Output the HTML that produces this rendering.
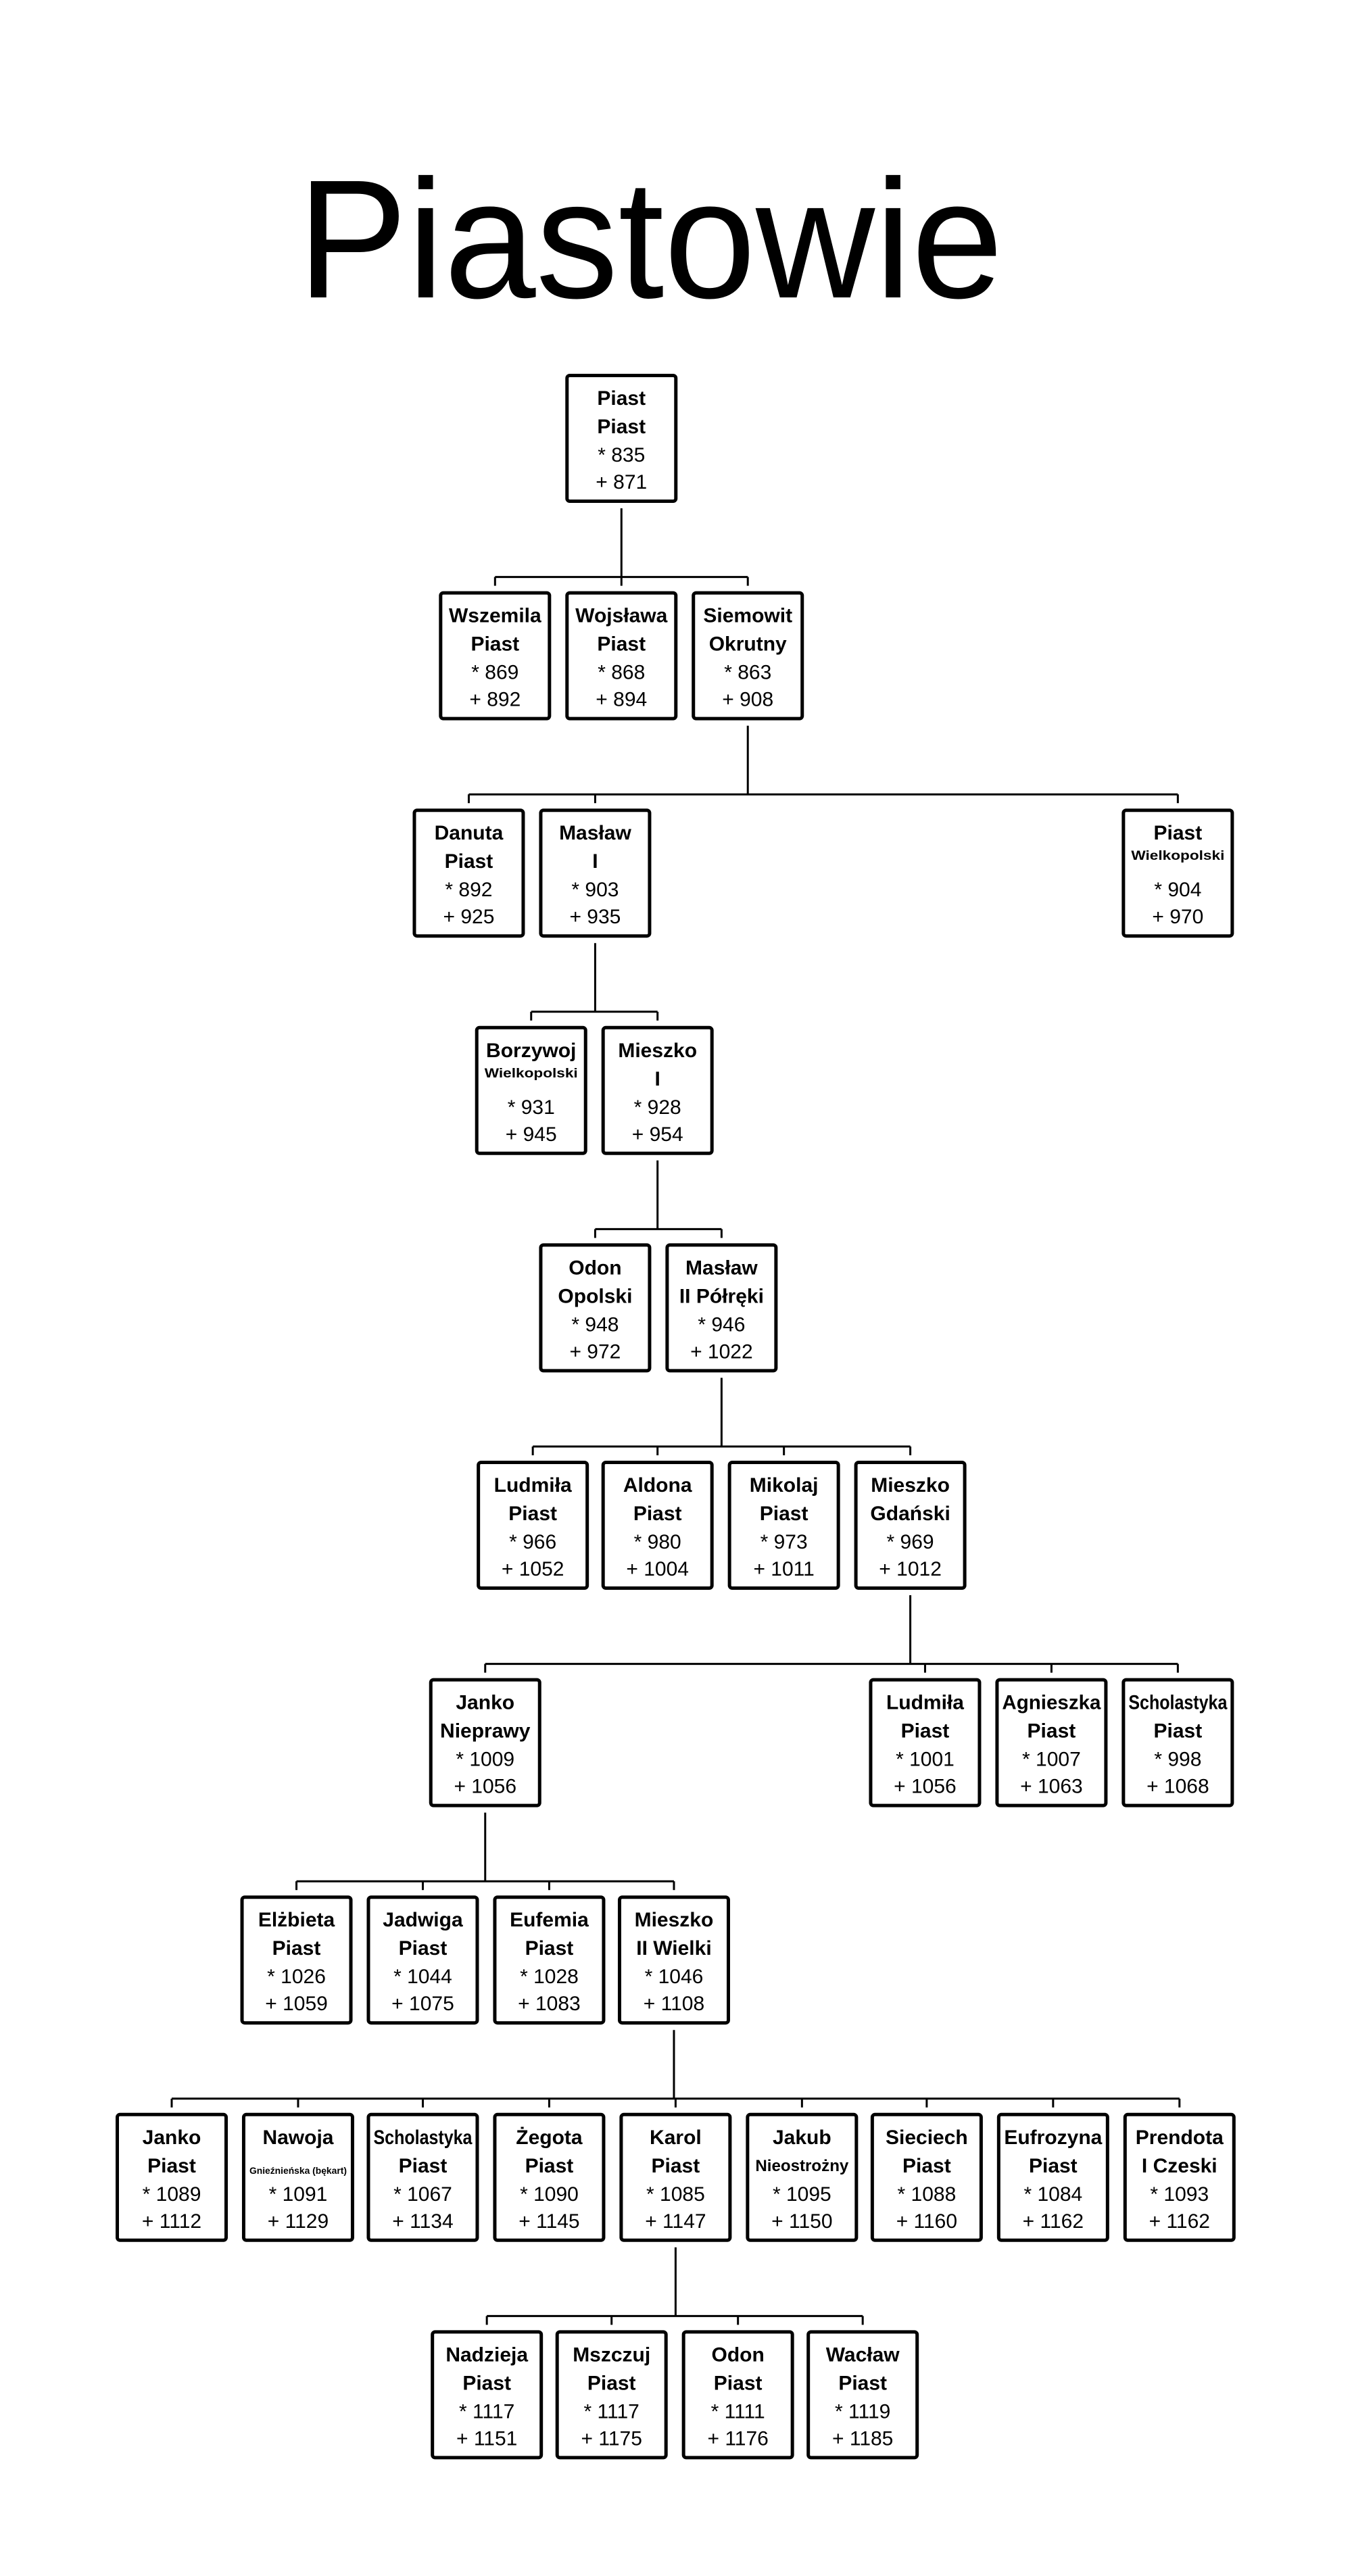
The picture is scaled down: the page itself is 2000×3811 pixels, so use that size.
<!DOCTYPE html>
<html><head><meta charset="utf-8">
<style>
html,body{margin:0;padding:0;background:#fff;}
svg{display:block;}
text{font-family:"Liberation Sans",sans-serif;fill:#000;}
</style></head>
<body>
<svg id="s" width="2000" height="3811" viewBox="0 0 2000 3811" xmlns="http://www.w3.org/2000/svg">
<rect width="2000" height="3811" fill="#fff"/>
<text x="440" y="440" font-size="250" textLength="1044" lengthAdjust="spacingAndGlyphs">Piastowie</text>
</svg>
<script>
var rows=[
 [[345,"Piast","Piast","835","871"]],
 [[268,"Wszemila","Piast","869","892"],[345,"Wojsława","Piast","868","894"],[422,"Siemowit","Okrutny","863","908"]],
 [[252,"Danuta","Piast","892","925"],[329,"Masław","I","903","935"],[684,"Piast","~Wielkopolski","904","970"]],
 [[290,"Borzywoj","~Wielkopolski","931","945"],[367,"Mieszko","I","928","954"]],
 [[329,"Odon","Opolski","948","972"],[406,"Masław","II Półręki","946","1022"]],
 [[291,"Ludmiła","Piast","966","1052"],[367,"Aldona","Piast","980","1004"],[444,"Mikolaj","Piast","973","1011"],[521,"Mieszko","Gdański","969","1012"]],
 [[262,"Janko","Nieprawy","1009","1056"],[530,"Ludmiła","Piast","1001","1056"],[607,"Agnieszka","Piast","1007","1063"],[684,"Scholastyka","Piast","998","1068"]],
 [[147,"Elżbieta","Piast","1026","1059"],[224,"Jadwiga","Piast","1044","1075"],[301,"Eufemia","Piast","1028","1083"],[377,"Mieszko","II Wielki","1046","1108"]],
 [[71,"Janko","Piast","1089","1112"],[148,"Nawoja","^Gnieźnieńska (bękart)","1091","1129"],[224,"Scholastyka","Piast","1067","1134"],[301,"Żegota","Piast","1090","1145"],[378,"Karol","Piast","1085","1147"],[455,"Jakub","=Nieostrożny","1095","1150"],[531,"Sieciech","Piast","1088","1160"],[608,"Eufrozyna","Piast","1084","1162"],[685,"Prendota","I Czeski","1093","1162"]],
 [[263,"Nadzieja","Piast","1117","1151"],[339,"Mszczuj","Piast","1117","1175"],[416,"Odon","Piast","1111","1176"],[492,"Wacław","Piast","1119","1185"]]
];
var parents=[null,0,2,1,1,1,3,0,3,4];
var W=166,H=191,svg=document.getElementById('s'),NS="http://www.w3.org/2000/svg";
function X(t){return 171+(t-71)*2.428;}
function Y(k){return 553+321.6*k;}
function el(n,a,txt){var e=document.createElementNS(NS,n);for(var k in a)e.setAttribute(k,a[k]);if(txt!=null)e.textContent=txt;svg.appendChild(e);return e;}
function fit(t,max){try{if(t.getComputedTextLength()>max){t.setAttribute('textLength',max);t.setAttribute('lengthAdjust','spacingAndGlyphs');}}catch(e){}}
rows.forEach(function(r,k){
 var top=Y(k);
 if(k>0){
  var p=rows[k-1][parents[k]],px=X(p[0])+W/2,pb=Y(k-1)+H;
  var hy=top-21,xs=r.map(function(b){return X(b[0])+W/2;});
  var mn=Math.min.apply(null,xs.concat([px])),mx=Math.max.apply(null,xs.concat([px]));
  el('line',{x1:px,y1:pb+8,x2:px,y2:hy,stroke:'#000','stroke-width':3});
  el('line',{x1:mn,y1:hy,x2:mx,y2:hy,stroke:'#000','stroke-width':3});
  xs.forEach(function(cx){el('line',{x1:cx,y1:hy,x2:cx,y2:top-8,stroke:'#000','stroke-width':3});});
 }
 r.forEach(function(b){
  var x=X(b[0]),cx=x+W/2;
  el('rect',{x:x+2.5,y:top+2.5,width:W-5,height:H-5,rx:4,fill:'#fff',stroke:'#000','stroke-width':5});
  var t1=el('text',{x:cx,y:top+46,'font-size':30,'font-weight':'bold','text-anchor':'middle'},b[1]);fit(t1,146);
  var s=b[2];
  if(s[0]=='~'){el('text',{x:cx,y:top+76,'font-size':19,'font-weight':'bold','text-anchor':'middle',textLength:138,lengthAdjust:'spacingAndGlyphs'},s.slice(1));}
  else if(s[0]=='^'){el('text',{x:cx,y:top+90,'font-size':14,'font-weight':'bold','text-anchor':'middle',textLength:144,lengthAdjust:'spacingAndGlyphs'},s.slice(1));}
  else if(s[0]=='='){el('text',{x:cx,y:top+86,'font-size':24,'font-weight':'bold','text-anchor':'middle',textLength:138,lengthAdjust:'spacingAndGlyphs'},s.slice(1));}
  else{var t2=el('text',{x:cx,y:top+88,'font-size':30,'font-weight':'bold','text-anchor':'middle'},s);fit(t2,146);}
  el('text',{x:cx,y:top+130,'font-size':30,'text-anchor':'middle'},'* '+b[3]);
  el('text',{x:cx,y:top+170,'font-size':30,'text-anchor':'middle'},'+ '+b[4]);
 });
});
</script>
</body></html>
